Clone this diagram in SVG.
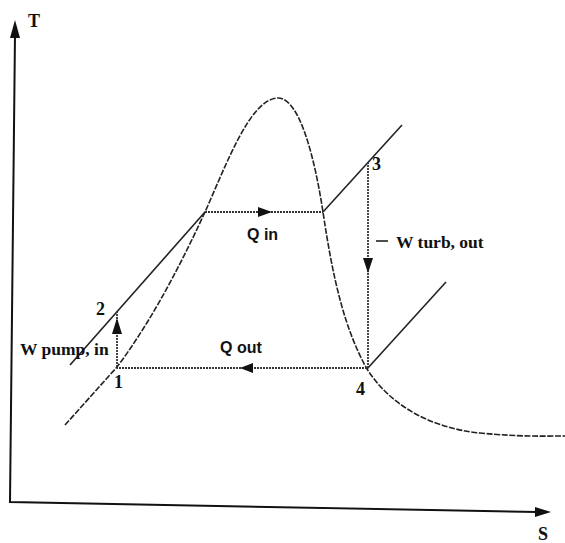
<svg xmlns="http://www.w3.org/2000/svg" width="565" height="543" viewBox="0 0 565 543">
<style>
.ax{stroke:#111;stroke-width:2;fill:none}
.dome{stroke:#222;stroke-width:1.6;fill:none;stroke-dasharray:6,1.6}
.iso{stroke:#222;stroke-width:1.6;fill:none}
.dot{stroke:#333;stroke-width:1.8;fill:none;stroke-dasharray:2,1}
.head{fill:#111}
.serif{font-family:"Liberation Serif","Times New Roman",serif;font-weight:bold;fill:#111}
.sans{font-family:"Liberation Sans",Arial,sans-serif;font-weight:bold;fill:#111}
</style>
<rect width="565" height="543" fill="#fff"/>
<g id="axes">
<path class="ax" d="M15,34 L10,502 L537,512"/>
<polygon class="head" points="15,20 10,38 20,38"/>
<polygon class="head" points="551,512 535,507 535,517"/>
<text class="serif" x="28" y="27" font-size="18">T</text>
<text class="serif" x="538" y="540" font-size="18">S</text>
</g>
<g id="dome">
<path class="dome" d="M65,425 L117,367 Q160,310 205,212 C225,168 250,98 278,98 C300,98 315,160 323,212 C333,280 345,330 367,369 C390,405 430,428 480,433 C520,437 545,436 565,436"/>
</g>
<g id="isobars">
<path class="iso" d="M70,365 L205,212"/>
<path class="iso" d="M323,212 L402,125"/>
<path class="iso" d="M367,369 L446,282"/>
</g>
<g id="connectors">
<g id="q-in">
<path class="dot" d="M205,212 L323,212"/>
<polygon class="head" points="272,212 258,207 258,217"/>
</g>
<g id="w-turb">
<path class="dot" d="M368,162 L368,368"/>
<polygon class="head" points="368,273 363,258 373,258"/>
</g>
<g id="q-out">
<path class="dot" d="M367,368 L117,368"/>
<polygon class="head" points="240,368 253,363 253,373"/>
</g>
<g id="w-pump">
<path class="dot" d="M117,367 L117,312"/>
<polygon class="head" points="117,318 112,334 122,334"/>
</g>
</g>
<g id="state-1"><text class="serif" x="114" y="388" font-size="18">1</text></g>
<g id="state-2"><text class="serif" x="96" y="315" font-size="18">2</text></g>
<g id="state-3"><text class="serif" x="372" y="170" font-size="18">3</text></g>
<g id="state-4"><text class="serif" x="356" y="395" font-size="18">4</text></g>
<g id="label-qin"><text class="sans" x="247" y="240" font-size="16">Q in</text></g>
<g id="label-qout"><text class="sans" x="220" y="353" font-size="16">Q out</text></g>
<g id="label-wturb"><path class="iso" d="M376,241 L388,241"/><text class="serif" x="396" y="248" font-size="17.5">W turb, out</text></g>
<g id="label-wpump"><text class="serif" x="20" y="355" font-size="17.5">W pump, in</text></g>
</svg>
